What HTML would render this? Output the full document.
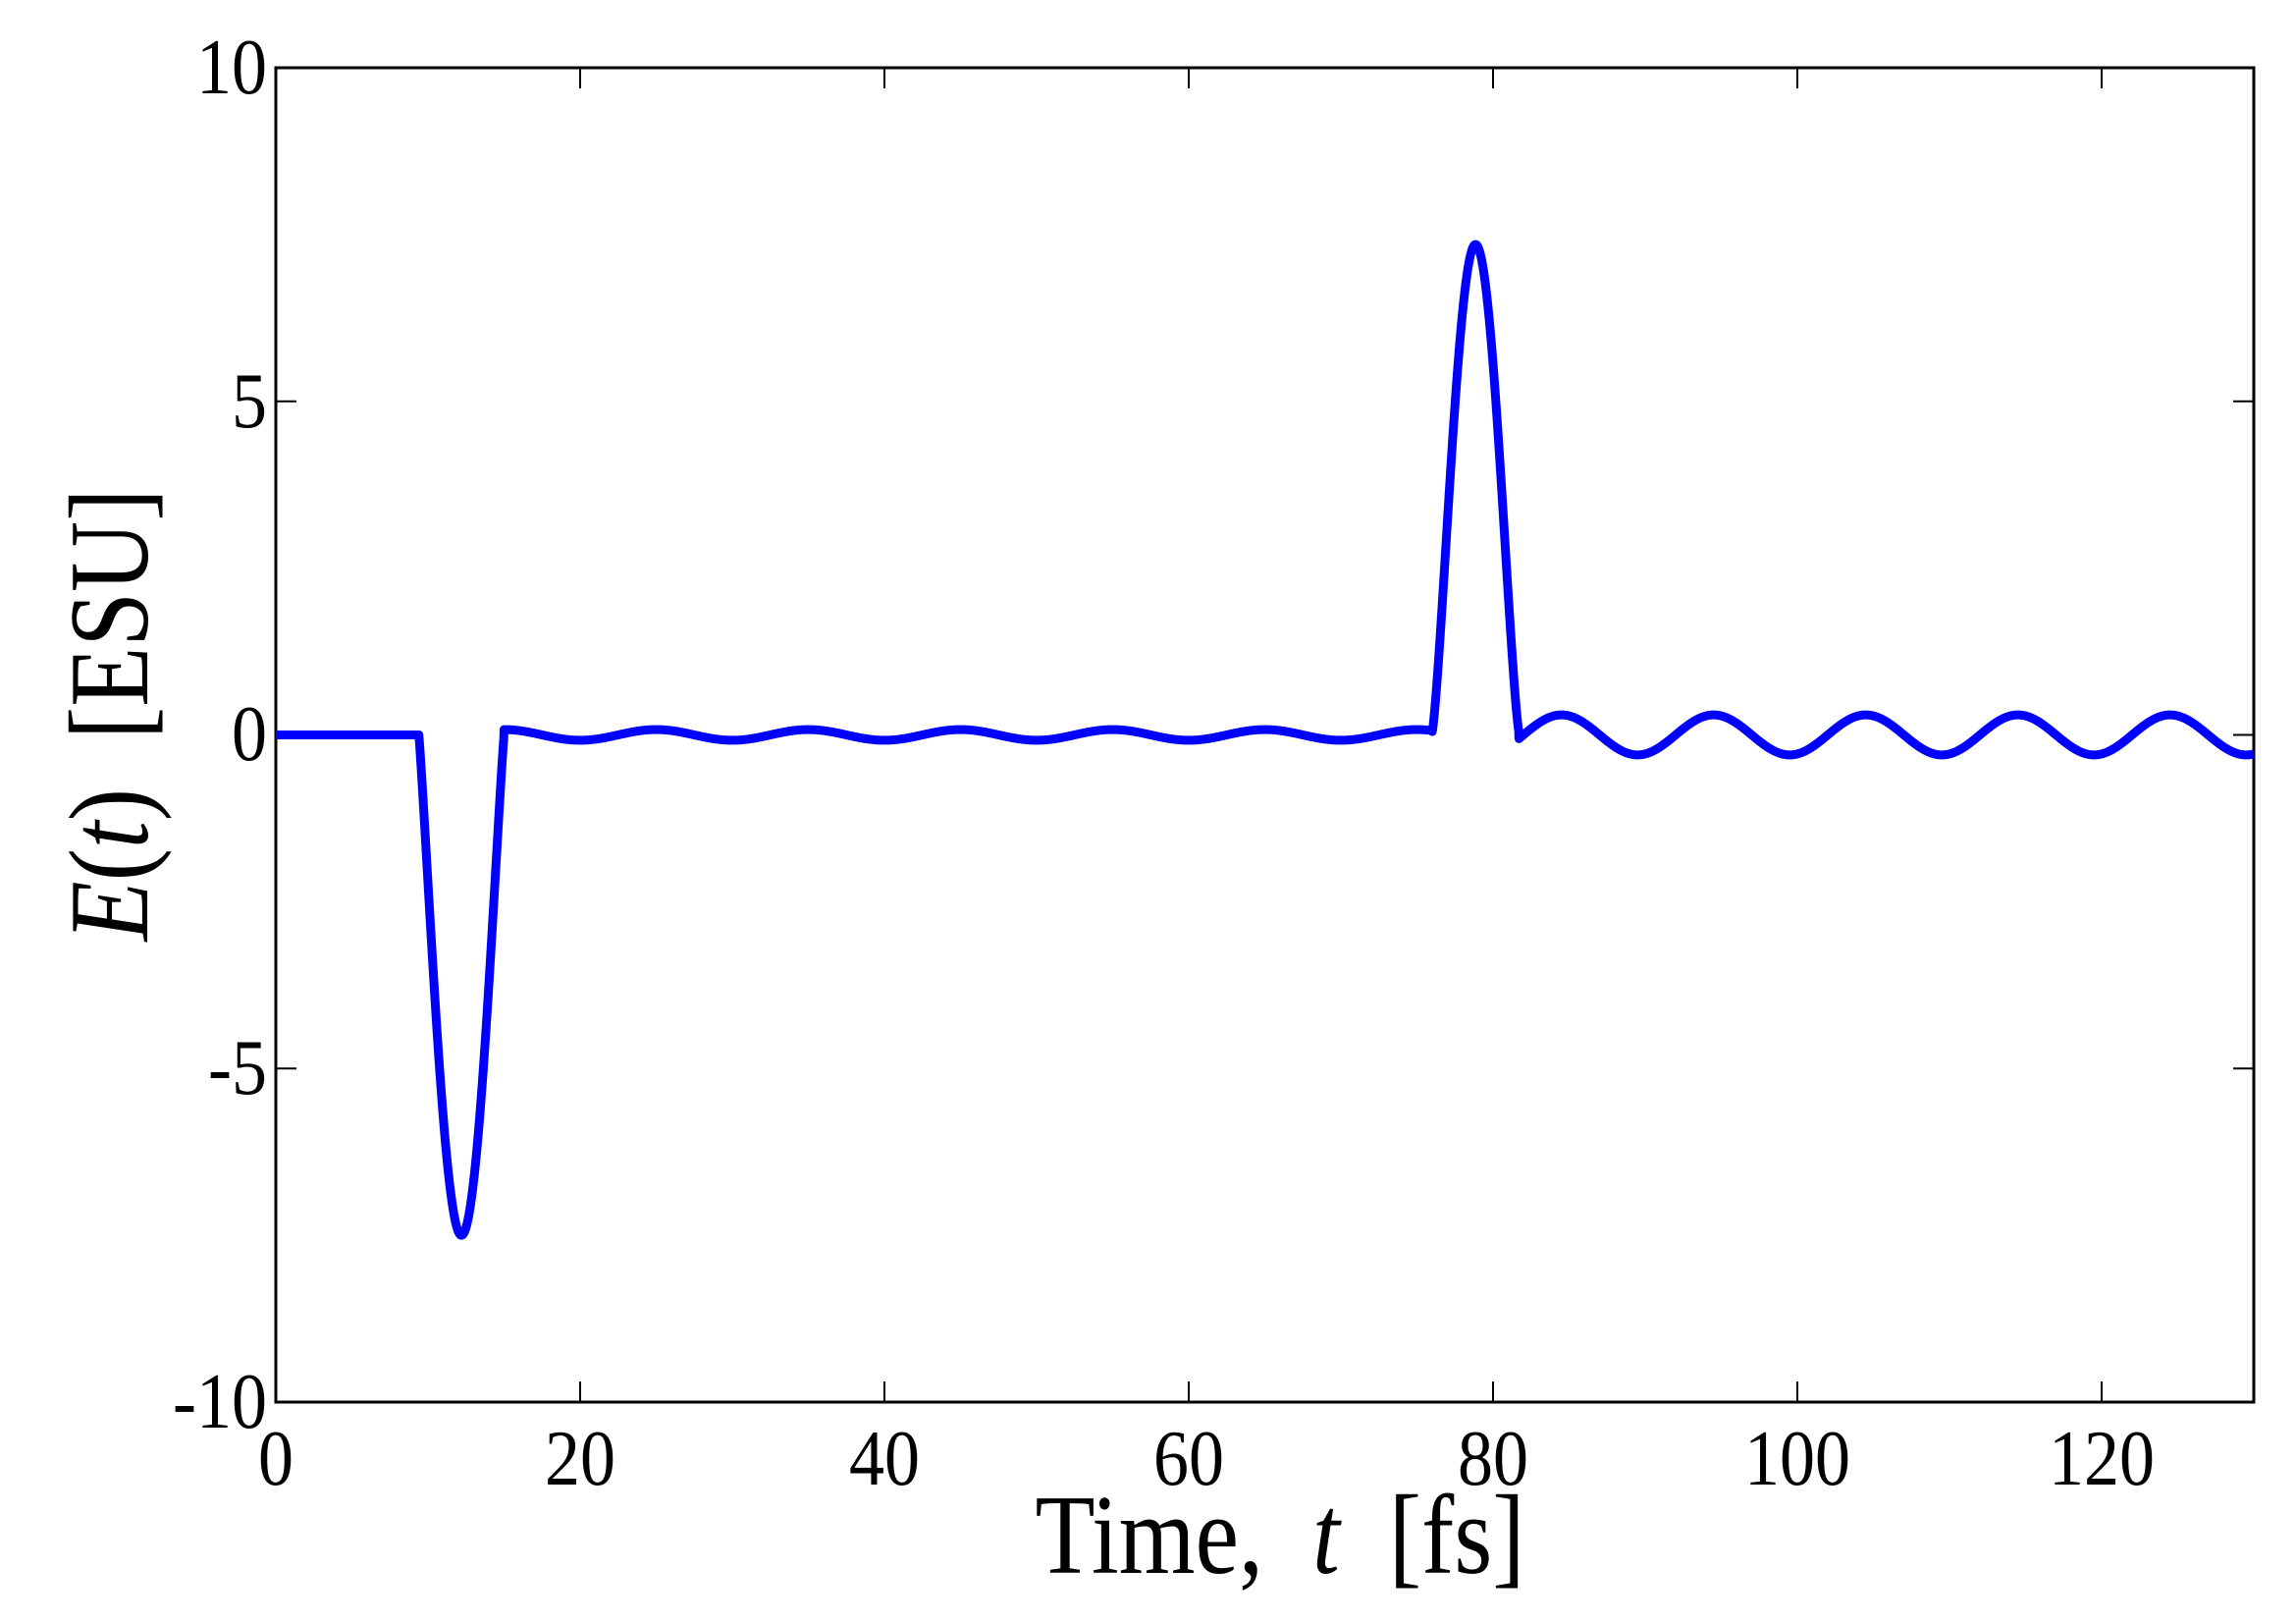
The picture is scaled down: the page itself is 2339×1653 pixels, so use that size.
<!DOCTYPE html>
<html><head><meta charset="utf-8"><style>
html,body{margin:0;padding:0;background:#fff;}
svg{display:block;}
text{font-family:"Liberation Serif",serif;fill:#000;white-space:pre;}
</style></head><body>
<svg id="s" width="2339" height="1653" viewBox="0 0 2339 1653" xmlns="http://www.w3.org/2000/svg">
<rect x="281" y="69" width="2015" height="1359" fill="none" stroke="#000" stroke-width="3"/>
<g id="ticks" stroke="#000" stroke-width="2"></g>
<path id="curve" fill="none" stroke="#0000ff" stroke-width="9" stroke-linejoin="round"/>
<g font-size="72" text-anchor="end">
<text transform="translate(272,95) scale(1,1.12)">10</text>
<text transform="translate(272,435) scale(1,1.12)">5</text>
<text transform="translate(272,774) scale(1,1.12)">0</text>
<text transform="translate(272,1114) scale(1,1.12)">-5</text>
<text transform="translate(272,1454) scale(1,1.12)">-10</text>
</g>
<g id="xl" font-size="72" text-anchor="middle"></g>
<text transform="translate(1304,1602) scale(1,1.15)" font-size="100" text-anchor="middle">Time,  <tspan font-style="italic">t</tspan>  [fs]</text>
<text transform="translate(150,728) rotate(-90) scale(1,1.15)" font-size="100" text-anchor="middle"><tspan font-style="italic">E</tspan>(<tspan font-style="italic">t</tspan>)  [ESU]</text>
</svg>
<script>
var X0=281,X1=2296,Y0=748.5,sy=67.95,sx=(X1-X0)/130;
var tk=document.getElementById('ticks'),xl=document.getElementById('xl'),h='',l='';
for(var v=0;v<=120;v+=20){var x=X0+v*sx;h+='<line x1="'+x+'" y1="1428" x2="'+x+'" y2="1407"/><line x1="'+x+'" y1="69" x2="'+x+'" y2="90"/>';l+='<text transform="translate('+x+',1512) scale(1,1.12)">'+v+'</text>';}
for(var y=-10;y<=10;y+=5){var yy=Y0-y*sy;h+='<line x1="281" y1="'+yy+'" x2="302" y2="'+yy+'"/><line x1="2296" y1="'+yy+'" x2="2275" y2="'+yy+'"/>';}
tk.innerHTML=h;xl.innerHTML=l;
function f(t){
 if(t<9.4)return 0;
 if(t<15.0){return -7.5*Math.pow(Math.cos(Math.PI*(t-12.2)/5.6),1.1);}
 if(t<76.0)return 0.08*Math.sin(2*Math.PI*(t-22.5)/10);
 if(t<81.7){return 0.05+7.3*Math.pow(Math.cos(Math.PI*(t-78.85)/5.7),1.3);}
 return 0.3*Math.sin(2*Math.PI*(t-82)/10);
}
var d='';for(var i=0;i<=6500;i++){var t=i*0.02;d+=(i?'L':'M')+(X0+t*sx).toFixed(2)+' '+(Y0-f(t)*sy).toFixed(2);}
document.getElementById('curve').setAttribute('d',d);
</script>
</body></html>
